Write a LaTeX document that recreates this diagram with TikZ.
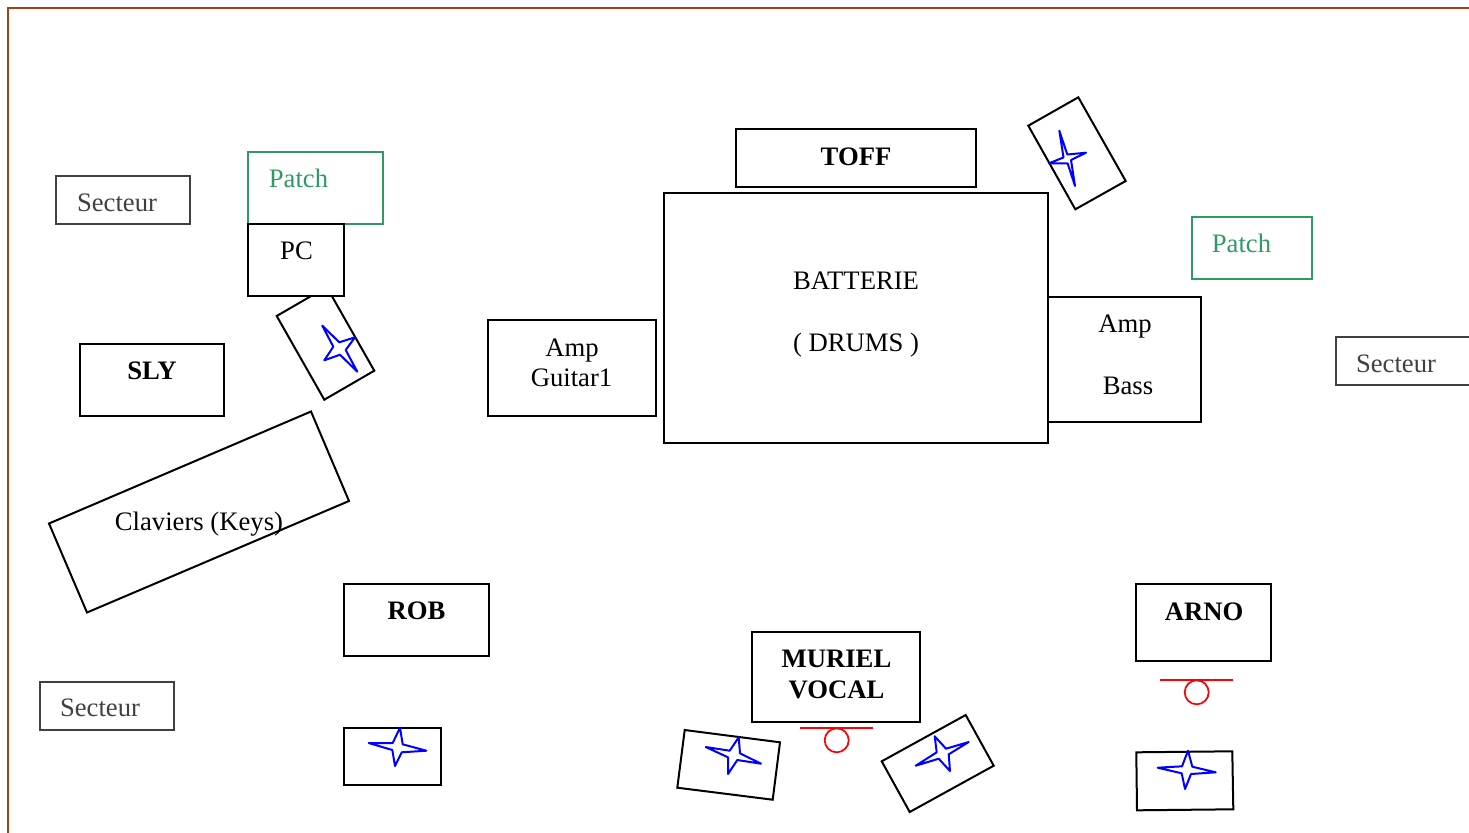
\documentclass[tikz,border=0pt]{standalone}
\usepackage{fontspec}
\setmainfont{Liberation Serif}
\definecolor{framebrown}{HTML}{A5400F}
\definecolor{sectgray}{HTML}{404040}
\definecolor{patchgreen}{HTML}{2E9B62}
\newcommand{\RBox}[6]{\node[#6,minimum width={(#4-#2)*0.75pt},minimum height={(#5-#3)*0.75pt}] (#1) at ({(#2+#4)/2-0.4},{(#3+#5)/2-0.4}) {};}
\tikzset{
  x=0.75pt,y=-0.75pt,
  boxk/.style={draw=black,fill=white,line width=1.5pt,inner sep=0pt,outer sep=0pt,rectangle},
  boxs/.style={draw=sectgray,fill=white,line width=1.5pt,inner sep=0pt,outer sep=0pt,rectangle},
  boxp/.style={draw=patchgreen,fill=white,line width=1.5pt,inner sep=0pt,outer sep=0pt,rectangle},
  tilt/.style={draw=black,fill=white,line width=1.5pt,line join=miter},
  star/.style={draw=blue,line width=1.5pt,line join=round},
  mic/.style={draw=red,line width=1.3pt},
  lab/.style={anchor=base,inner sep=0pt,font=\fontsize{20}{24}\selectfont},
  labb/.style={lab,font=\fontsize{20}{24}\selectfont\bfseries},
  labs/.style={lab,text=sectgray},
  labp/.style={lab,text=patchgreen},
}
\begin{document}
\begin{tikzpicture}
\useasboundingbox (0,0) rectangle (1469,832);
\begin{scope}
\clip (0,0) rectangle (1469,832);
\draw[framebrown,line width=1.5pt] (8.2,840) -- (8.2,8) -- (1480,8);

% tilted stands
\draw[tilt] (1078.3,97.3) -- (1028.3,125.7) -- (1075.3,209.3) -- (1125.7,181) -- cycle;
\draw[tilt] (276.7,316) -- (326.7,287) -- (374.3,370.7) -- (324.3,399.7) -- cycle;
\draw[tilt] (311,411.5) -- (349,501) -- (87,612.5) -- (49,523.5) -- cycle;
\draw[tilt] (684.7,730) -- (780,742.3) -- (772.7,799.7) -- (677.3,787.7) -- cycle;
\draw[tilt] (965.7,715) -- (881.7,761.3) -- (909.7,812) -- (993.7,765.7) -- cycle;
\draw[tilt] (1136.3,752.3) -- (1232.3,751.3) -- (1233.3,809.3) -- (1137,810.3) -- cycle;

% boxes
\RBox{sect1}{56.5}{176}{190.5}{224}{boxs}
\RBox{patch1}{248.4}{152}{383}{224}{boxp}
\RBox{pc}{248.5}{224}{344.5}{296}{boxk}
\RBox{sly}{80.5}{344}{224.5}{416}{boxk}
\RBox{guitar}{488.5}{320}{656.5}{416}{boxk}
\RBox{amp}{1048}{297.5}{1201.5}{422.5}{boxk}
\RBox{drums}{664.4}{193.4}{1048.4}{443}{boxk}
\RBox{toff}{736}{129.5}{976}{187}{boxk}
\RBox{patch2}{1192}{217}{1312}{279}{boxp}
\RBox{sect2}{1336}{337}{1490}{385}{boxs}
\RBox{rob}{344.5}{584}{489}{656}{boxk}
\RBox{arno}{1136.5}{584}{1271.5}{661}{boxk}
\RBox{muriel}{752.5}{632}{920.5}{722.5}{boxk}
\RBox{sect3}{40}{682}{174}{730}{boxs}
\RBox{robstand}{344.5}{728}{441}{785.5}{boxk}

% stars
\draw[star] (1059.3,130.7) -- (1067.3,154.5) -- (1086,152.7) -- (1071,160) -- (1075,186) -- (1067.7,163.5) -- (1049,163.3) -- (1063.5,157.5) -- cycle;
\draw[star] (322.3,325.7) -- (339.3,342.3) -- (355,337.3) -- (345.7,350) -- (357.3,371.7) -- (340,354.7) -- (324.3,360.3) -- (333.3,346.7) -- cycle;
\draw[star] (738.7,737.3) -- (740,753.3) -- (761,763.7) -- (737.3,760) -- (728,774) -- (728,757.3) -- (705.7,747) -- (729.7,750.7) -- cycle;
\draw[star] (934.7,736.3) -- (946,748.7) -- (968.7,742) -- (948.7,754.3) -- (950,771) -- (938.7,758.7) -- (915.7,765.7) -- (936.7,752.3) -- cycle;
\draw[star] (1188,750.7) -- (1192.3,766.7) -- (1215.7,772.3) -- (1191,774) -- (1185,789) -- (1181.7,773.3) -- (1157.7,767.7) -- (1182,766.3) -- cycle;
\draw[star] (400,727.7) -- (402.7,744.3) -- (426.3,750.7) -- (401.7,752.3) -- (395,766) -- (392.3,750) -- (368.7,743) -- (392.7,743) -- cycle;

% microphones
\draw[mic] (800,728.3) -- (873.3,728.3);
\draw[mic] (836.7,740.3) circle (12);
\draw[mic] (1160,680) -- (1233.3,680);
\draw[mic] (1196.7,692.3) circle (12);

% labels
\node[labs] (t1) at (117,211) {Secteur};
\node[labp] (t2) at (298.5,187) {Patch};
\node[lab] (t3) at (296.5,259) {PC};
\node[labb] (t4) at (152,379) {SLY};
\node[lab] (t5) at (572,356) {Amp};
\node[lab] (t6) at (571.5,386) {Guitar1};
\node[lab] (t7) at (856,289) {BATTERIE};
\node[lab] (t8) at (856,351) {( DRUMS )};
\node[labb] (t9) at (856,165) {TOFF};
\node[lab] (t10) at (1125,332.5) {Amp};
\node[lab] (t11) at (1128,394.5) {Bass};
\node[labp] (t12) at (1241.5,252.7) {Patch};
\node[labs] (t13) at (1396,372) {Secteur};
\node[labb] (t14) at (416.5,619) {ROB};
\node[labb] (t15) at (1204,620) {ARNO};
\node[labb] (t16) at (836.5,667) {MURIEL};
\node[labb] (t17) at (836.5,698) {VOCAL};
\node[labs] (t18) at (100,716) {Secteur};
\node[lab] (t19) at (199,530) {Claviers (Keys)};
\end{scope}
\end{tikzpicture}
\end{document}
